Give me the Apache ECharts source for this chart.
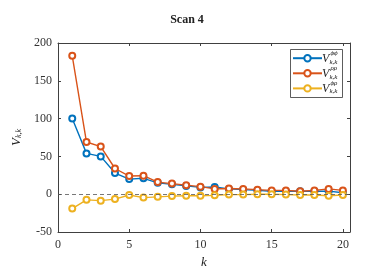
<!DOCTYPE html>
<html><head><meta charset="utf-8">
<script src="https://cdn.jsdelivr.net/npm/echarts@6/dist/echarts.min.js"></script>
<style>html,body{margin:0;padding:0;background:#fff}#c{width:374px;height:280px}</style>
</head><body><div id="c"></div>
<script>
const ks = [1,2,3,4,5,6,7,8,9,10,11,12,13,14,15,16,17,18,19,20];
const phiphi = [100,54,50,28,20,21,15,13,11,9,9.5,7,6,5,4,4,4,4,4,2];
const rhorho = [183,69,63,34,24,24.5,16,14,12,10,7,7.5,7,6,5,5,4,5,7,5];
const phirho = [-19,-7.5,-8.5,-6.5,-1,-4.5,-3.5,-2.5,-2,-2,-1.5,-0.5,-0.5,0,0,-0.5,-1,-1,-2,-1];
const xTicks = [0,5,10,15,20];
const yTicks = [-50,0,50,100,150,200];
const supLabels = ['ϕϕ','ρρ','ϕρ'];
const names = ['phiphi','rhorho','phirho'];
const colors = ['#0072BD','#D95319','#EDB120'];
const serif = '"Liberation Serif","DejaVu Serif",serif';
const axisCol = '#404040';

function pairs(v){ return ks.map((k,i)=>[k,v[i]]); }

const chart = echarts.init(document.getElementById('c'));
const baseX = {type:'value', min:0, max:20.5, interval:5,
  axisLine:{show:true,onZero:false,lineStyle:{color:axisCol,width:1}}, splitLine:{show:false},
  axisTick:{inside:true,length:3,lineStyle:{color:axisCol}}};
const baseY = {type:'value', min:-50, max:200, interval:50,
  axisLine:{show:true,onZero:false,lineStyle:{color:axisCol,width:1}}, splitLine:{show:false},
  axisTick:{inside:true,length:3,lineStyle:{color:axisCol}}};

const series = [phiphi, rhorho, phirho].map((v,i)=>({
  name: names[i], type:'line', data: pairs(v), symbol:'emptyCircle', symbolSize:6,
  lineStyle:{color:colors[i],width:1.4}, itemStyle:{color:colors[i],borderColor:colors[i],borderWidth:1.3},
  emphasis:{disabled:true}, animation:false,
  markLine: i===0 ? {silent:true, symbol:'none', label:{show:false},
    lineStyle:{color:'#555',type:[4,3],width:0.8}, data:[{yAxis:0}]} : undefined
}));

const gfx = [{type:'rect', z:5, shape:{x:290.5,y:49.5,width:52,height:48},
  style:{fill:'#fff',stroke:'#333',lineWidth:0.8}}];
const rowY = [58,72.7,87.5];
rowY.forEach((y,i)=>{
  gfx.push({type:'text', z:11, x:322, y:y+1, style:{text:'V',font:'italic 12px '+serif,fill:'#222',verticalAlign:'middle'}});
  gfx.push({type:'text', z:11, x:330.5, y:y-4.5, style:{text:supLabels[i],font:'italic 7px '+serif,fill:'#222',verticalAlign:'middle'}});
  gfx.push({type:'text', z:11, x:329.5, y:y+4, style:{text:'k,k',font:'italic 7px '+serif,fill:'#222',verticalAlign:'middle'}});
});

chart.setOption({
  animation:false,
  title:{text:'Scan 4', left:'center', top:9, textStyle:{fontFamily:serif,fontWeight:'bold',fontSize:12,color:'#222'}},
  grid:{left:58,right:24,top:43,bottom:48},
  legend:{orient:'vertical', left:287, top:49, itemWidth:29, itemHeight:8, itemGap:6.7, z:10,
    data:names, formatter:()=>'', textStyle:{fontSize:1}, selectedMode:false},
  xAxis:[Object.assign({}, baseX, {position:'bottom',
      name:'k', nameLocation:'middle', nameGap:21,
      nameTextStyle:{fontFamily:serif,fontStyle:'italic',fontSize:13,color:'#222'},
      axisLabel:{fontFamily:serif,fontSize:12,color:'#333',margin:7,
        formatter:v=>xTicks.includes(v)?String(v):''}}),
    Object.assign({}, baseX, {position:'top', axisLabel:{show:false}})],
  yAxis:[Object.assign({}, baseY, {position:'left',
      name:'{v|V}{s|k,k}', nameLocation:'middle', nameGap:32, nameRotate:90,
      nameTextStyle:{rich:{v:{fontFamily:serif,fontStyle:'italic',fontSize:13,color:'#222'},
        s:{fontFamily:serif,fontStyle:'italic',fontSize:8,color:'#222',verticalAlign:'bottom',padding:[6,0,0,0]}}},
      axisLabel:{fontFamily:serif,fontSize:12,color:'#333',margin:6,
        formatter:v=>yTicks.includes(v)?String(v):''}}),
    Object.assign({}, baseY, {position:'right', axisLabel:{show:false}})],
  graphic: gfx,
  series: series
});
</script></body></html>
